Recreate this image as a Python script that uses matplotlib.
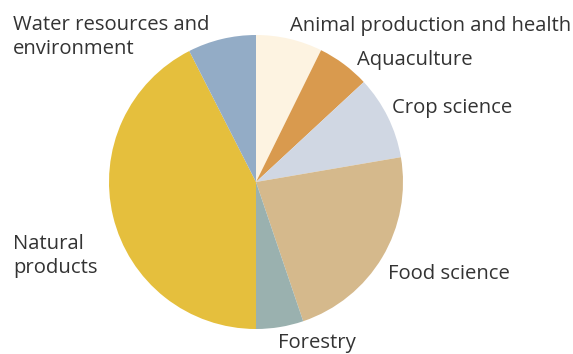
import matplotlib
matplotlib.use("Agg")
import matplotlib.pyplot as plt

# ================= DATA =================
CATEGORIES = [
    "Animal production and health",
    "Aquaculture",
    "Crop science",
    "Food science",
    "Forestry",
    "Natural\nproducts",
    "Water resources and\nenvironment",
]
SHARES = [7.3, 5.8, 9.2, 22.5, 5.2, 42.5, 7.5]
COLORS = ["#FDF3E1", "#D99A4E", "#D0D7E3", "#D5B98C", "#9AB1AF", "#E5BF3D", "#93ACC6"]

# label anchor (left x, centre y) in pixels from the top-left corner
LABEL_POS = [
    (290, 26),
    (357, 60),
    (392, 108),
    (388, 274),
    (278, 343),
    (13, 256),
    (13, 37),
]

W, H = 573, 354
CENTER = (256, 182)
RADIUS = 147
# ========================================

plt.rcParams["font.family"] = ["Open Sans", "DejaVu Sans"]

fig = plt.figure(figsize=(W / 100, H / 100), dpi=100)
ax = fig.add_axes([0, 0, 1, 1])

ax.pie(
    SHARES,
    colors=COLORS,
    startangle=90,
    counterclock=False,
    center=(CENTER[0], H - CENTER[1]),
    radius=RADIUS,
    frame=True,
    wedgeprops=dict(linewidth=0),
)
ax.set_xlim(0, W)
ax.set_ylim(0, H)
ax.set_aspect("equal")
ax.axis("off")

for label, (x, y) in zip(CATEGORIES, LABEL_POS):
    ax.text(x, H - y, label, ha="left", va="center", fontsize=14.6,
            color="#333333", linespacing=1.3)

fig.savefig("out.png", dpi=100)
